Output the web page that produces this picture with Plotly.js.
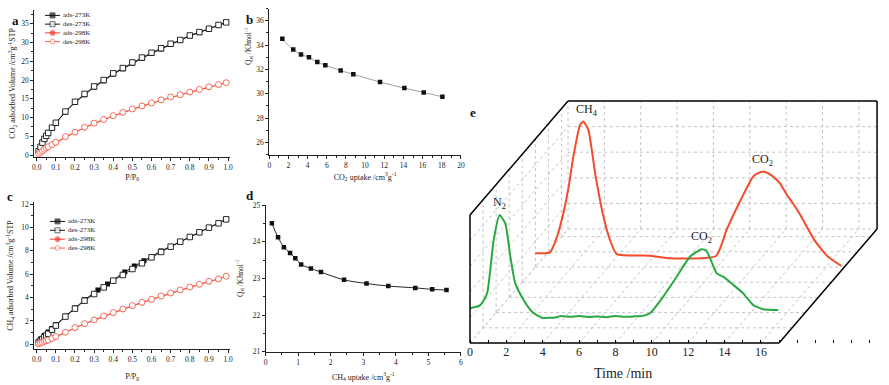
<!DOCTYPE html>
<html><head><meta charset="utf-8">
<script src="https://cdn.plot.ly/plotly-3.0.1.min.js"></script>
<style>html,body{margin:0;padding:0;background:#fff}#chart{width:889px;height:385px}</style>
</head><body><div id="chart"></div>
<script>
// ---------------- DATA ----------------
// panel a: CO2 isotherms
const pressureA = [0.01,0.02,0.03,0.04,0.05,0.06,0.08,0.10,0.15,0.20,0.25,0.30,0.35,0.40,0.45,0.50,0.55,0.60,0.65,0.70,0.75,0.80,0.85,0.90,0.95,0.99];
const co2Ads273 = [0.9,2.1,3.2,4.2,5.0,5.8,7.2,8.5,11.5,14.0,16.1,18.1,19.8,21.6,23.0,24.5,25.8,27.1,28.3,29.5,30.6,31.8,32.7,33.6,34.6,35.4];
const co2Des273 = [1.0,2.2,3.3,4.3,5.1,5.9,7.3,8.6,11.6,14.2,16.3,18.3,20.0,21.8,23.2,24.7,26.0,27.3,28.5,29.7,30.7,31.9,32.8,33.7,34.7,35.4];
const co2Ads298 = [0.25,0.65,1.05,1.45,1.85,2.15,2.75,3.3,4.8,6.0,7.3,8.4,9.4,10.4,11.3,12.2,13.0,13.8,14.6,15.4,16.0,16.7,17.4,18.1,18.7,19.3];
const co2Des298 = [0.3,0.7,1.1,1.5,1.9,2.2,2.8,3.4,4.9,6.1,7.4,8.5,9.5,10.5,11.4,12.3,13.1,13.9,14.7,15.5,16.1,16.8,17.5,18.2,18.8,19.3];
// panel c: CH4 isotherms
const pressureC = [0.01,0.02,0.03,0.04,0.05,0.06,0.08,0.10,0.15,0.20,0.25,0.30,0.35,0.40,0.45,0.50,0.55,0.60,0.65,0.70,0.75,0.80,0.85,0.90,0.95,0.99];
const pressureCAds273 = [0.01,0.02,0.04,0.06,0.08,0.10,0.15,0.20,0.25,0.32,0.37,0.46,0.51,0.56,0.65,0.75,0.85,0.95,0.99];
const ch4Ads273 = [0.2,0.45,0.75,1.05,1.35,1.7,2.4,3.1,3.8,4.65,5.16,6.19,6.7,7.15,7.98,8.78,9.58,10.35,10.69];
const ch4Des273 = [0.15,0.3,0.45,0.6,0.75,0.9,1.25,1.6,2.37,3.05,3.73,4.3,4.87,5.44,5.93,6.44,6.93,7.44,7.9,8.35,8.78,9.18,9.58,9.98,10.35,10.69];
const ch4Ads298 = [0.04,0.09,0.15,0.22,0.28,0.34,0.47,0.63,1.0,1.4,1.74,2.05,2.39,2.68,2.99,3.28,3.56,3.82,4.1,4.36,4.62,4.88,5.11,5.37,5.57,5.82];
const ch4Des298 = [0.05,0.1,0.17,0.25,0.3,0.37,0.5,0.66,1.03,1.43,1.77,2.08,2.42,2.71,3.02,3.31,3.59,3.85,4.13,4.39,4.65,4.9,5.13,5.39,5.59,5.82];
// panel b: CO2 isosteric heat
const co2Uptake = [1.36,2.5,3.31,4.14,5.01,5.85,7.45,8.77,11.56,14.1,16.12,18.07];
const co2Qst = [34.51,33.63,33.22,33.0,32.61,32.34,31.9,31.6,30.96,30.46,30.1,29.75];
// panel d: CH4 isosteric heat
const ch4Uptake = [0.19,0.38,0.56,0.75,0.91,1.09,1.39,1.7,2.41,3.1,3.77,4.6,5.12,5.56];
const ch4Qst = [24.5,24.12,23.85,23.69,23.55,23.38,23.27,23.17,22.96,22.86,22.79,22.74,22.7,22.68];
// panel e: chromatogram signals
const greenTime = [0,0.57,0.94,1.3,1.63,1.94,2.22,2.49,2.95,3.41,3.96,4.69,4.97,5.5,6.0,6.5,7.0,7.5,8.0,8.5,9.0,9.5,9.9,10.63,11.37,12.1,12.74,13.0,13.57,13.93,14.48,15.03,15.58,16.13,16.96];
const greenSignal = [1.36,1.48,1.94,4.02,5.0,4.67,3.37,2.33,1.68,1.22,0.99,1.0,1.05,1.03,1.05,1.02,1.04,1.01,1.05,1.03,1.04,1.06,1.16,1.81,2.59,3.37,3.66,3.61,2.72,2.59,2.27,1.94,1.48,1.32,1.29];
const redTime = [0,0.81,1.2,1.54,1.85,2.09,2.46,2.64,2.92,3.29,3.75,4.11,4.48,6.31,7.32,9.94,10.52,11.26,11.98,12.2,12.5,12.8,13.08,13.46,13.81,14.2,14.56,15.35,16.1,16.84];
const redSignal = [0.54,0.57,1.2,2.1,3.2,4.31,5.55,5.68,5.35,3.66,1.96,1.05,0.5,0.44,0.34,0.43,1.45,2.57,3.53,3.65,3.72,3.67,3.53,3.27,2.85,2.45,2.05,1.05,0.4,0.04];
const greenLabel = 'N<sub>2</sub>', greenLabel2 = 'CO<sub>2</sub>';
const redLabel = 'CH<sub>4</sub>', redLabel2 = 'CO<sub>2</sub>';
const timeLabels = [0,2,4,6,8,10,12,14,16];
const legendLabels = ['ads-273K','des-273K','ads-298K','des-298K'];

// ---------------- STYLE / LAYOUT HELPERS ----------------
const W = 889, H = 385;
const px = v => v / W, py = v => 1 - v / H;
const SERIF = 'Liberation Serif, Times New Roman, serif';
const BLACK = '#111', RED = '#f3412b', RED_LIGHT = '#f5604c', GREEN = '#2aa844', ORANGE = '#f34b2b';

function ax(extra) {
  return Object.assign({
    showgrid: false, zeroline: false, showline: true, linecolor: '#222', linewidth: 1,
    ticks: 'outside', ticklen: 3, tickwidth: 1, tickcolor: '#222',
    tickfont: {family: SERIF, size: 7.5, color: '#222'}, fixedrange: true
  }, extra);
}
function ttl(text, standoff, size) {
  return {text: text, standoff: standoff, font: {family: SERIF, size: size || 8, color: '#222'}};
}

const traces = [];
function isoTraces(xs, xsAds273, ads273, des273, ads298, des298, xref, yref) {
  traces.push({x: xsAds273, y: ads273, xaxis: xref, yaxis: yref, mode: 'lines+markers', line: {color: BLACK, width: 1}, marker: {symbol: 'square', size: 5, color: BLACK}});
  traces.push({x: xs, y: des273, xaxis: xref, yaxis: yref, mode: 'lines+markers', line: {color: BLACK, width: 0.8}, marker: {symbol: 'square', size: 5.5, color: '#fff', line: {color: BLACK, width: 0.9}}});
  traces.push({x: xs, y: ads298, xaxis: xref, yaxis: yref, mode: 'lines+markers', line: {color: RED, width: 1}, marker: {symbol: 'circle', size: 5.5, color: RED}});
  traces.push({x: xs, y: des298, xaxis: xref, yaxis: yref, mode: 'lines+markers', line: {color: RED_LIGHT, width: 0.8}, marker: {symbol: 'circle', size: 6, color: '#fff', line: {color: RED_LIGHT, width: 0.9}}});
}
isoTraces(pressureA, pressureA, co2Ads273, co2Des273, co2Ads298, co2Des298, 'x', 'y');
isoTraces(pressureC, pressureCAds273, ch4Ads273, ch4Des273, ch4Ads298, ch4Des298, 'x3', 'y3');

traces.push({x: co2Uptake, y: co2Qst, xaxis: 'x2', yaxis: 'y2', mode: 'lines+markers', line: {color: '#888', width: 0.8, shape: 'spline'}, marker: {symbol: 'square', size: 4.5, color: BLACK}});
traces.push({x: ch4Uptake, y: ch4Qst, xaxis: 'x4', yaxis: 'y4', mode: 'lines+markers', line: {color: BLACK, width: 0.9, shape: 'spline'}, marker: {symbol: 'square', size: 4.5, color: BLACK}});

// legend samples (own small axes)
const legendStyles = [
  {lc: BLACK, sym: 'square', fill: BLACK, mlc: BLACK},
  {lc: BLACK, sym: 'square', fill: '#fff', mlc: BLACK},
  {lc: RED, sym: 'circle', fill: RED, mlc: RED},
  {lc: RED_LIGHT, sym: 'circle', fill: '#fff', mlc: RED_LIGHT}
];
const annotations = [];
[['x6', 'y6'], ['x7', 'y7']].forEach(([xr, yr]) => {
  legendLabels.forEach((lab, i) => {
    const row = 3.5 - i, s = legendStyles[i];
    traces.push({x: [1, 8.5, 16], y: [row, row, row], xaxis: xr, yaxis: yr, mode: 'lines+markers', line: {color: s.lc, width: 1},
      marker: {symbol: s.sym, size: [0, 5, 0], color: s.fill, line: {color: s.mlc, width: 0.9}}});
    annotations.push({x: 17, y: row, xref: xr, yref: yr, text: lab, showarrow: false, xanchor: 'left', yanchor: 'middle',
      font: {family: SERIF, size: 7, color: '#222'}});
  });
});

// panel e projection
const PXMIN = 18.18, PXUNIT = 25.6;
const T_END = 17, Z_TOP = 5, D_BACK = 7.5;
const DXD = (98 / D_BACK) / PXMIN, DYD = (114 / D_BACK) / PXUNIT;
const proj = (t, v, d) => [t + d * DXD, v + d * DYD];
const GREEN_DEPTH = 0, RED_DEPTH = 5;

function projSeries(ts, vs, d) {
  const xs = [], ys = [];
  ts.forEach((t, i) => { const p = proj(t, vs[i], d); xs.push(p[0]); ys.push(p[1]); });
  return [xs, ys];
}
const [gx, gy] = projSeries(greenTime, greenSignal, GREEN_DEPTH);
const [rx, ry] = projSeries(redTime, redSignal, RED_DEPTH);
traces.push({x: rx, y: ry, xaxis: 'x5', yaxis: 'y5', mode: 'lines', line: {color: ORANGE, width: 2, shape: 'spline', smoothing: 0.5}});
traces.push({x: gx, y: gy, xaxis: 'x5', yaxis: 'y5', mode: 'lines', line: {color: GREEN, width: 2, shape: 'spline', smoothing: 0.5}});

// box & grid shapes for panel e
const shapes = [];
function seg(p, q, solid) {
  shapes.push({type: 'line', xref: 'x5', yref: 'y5', x0: p[0], y0: p[1], x1: q[0], y1: q[1], layer: solid ? 'above' : 'below',
    line: solid ? {color: '#000', width: 1.5} : {color: '#c4c4c4', width: 1, dash: 'dot'}});
}
for (let t = 0; t < T_END; t += 2) {
  seg(proj(t, 0, D_BACK), proj(t, Z_TOP, D_BACK), false); // back wall verticals
  seg(proj(t, 0, 0), proj(t, 0, D_BACK), false);          // floor diagonals
}
for (let v = 0; v < Z_TOP; v += 1) {
  seg(proj(0, v, D_BACK), proj(T_END, v, D_BACK), false); // back wall horizontals
  seg(proj(0, v, 0), proj(0, v, D_BACK), false);          // left wall diagonals
}
for (let d = 1; d < D_BACK; d += 1) {
  seg(proj(0, 0, d), proj(0, Z_TOP, d), false);           // left wall verticals
  seg(proj(0, 0, d), proj(T_END, 0, d), false);           // floor lines
}
// solid outline
seg(proj(0, 0, 0), proj(0, Z_TOP, 0), true);
seg(proj(0, Z_TOP, 0), proj(0, Z_TOP, D_BACK), true);
seg(proj(0, Z_TOP, D_BACK), proj(T_END, Z_TOP, D_BACK), true);
seg(proj(T_END, Z_TOP, D_BACK), proj(T_END, 0, D_BACK), true);
seg(proj(T_END, 0, D_BACK), proj(T_END, 0, 0), true);
seg(proj(0, 0, 0), proj(T_END, 0, 0), true);

// peak labels
function peakLabel(ts, vs, d, lo, hi, text, xs) {
  let bi = -1;
  ts.forEach((t, i) => { if (t >= lo && t <= hi && (bi < 0 || vs[i] > vs[bi])) bi = i; });
  const p = proj(ts[bi], vs[bi], d);
  annotations.push({x: p[0], y: p[1], xref: 'x5', yref: 'y5', text: text, showarrow: false, yanchor: 'bottom', yshift: 2, xshift: xs || 0,
    font: {family: SERIF, size: 12, color: '#222'}});
}
peakLabel(greenTime, greenSignal, GREEN_DEPTH, 0, 5, greenLabel, 0);
peakLabel(greenTime, greenSignal, GREEN_DEPTH, 8, 17, greenLabel2, 0);
peakLabel(redTime, redSignal, RED_DEPTH, 0, 5, redLabel, 4);
peakLabel(redTime, redSignal, RED_DEPTH, 8, 17, redLabel2, 0);

// panel letters and e title
[['a', 15, 20], ['b', 249, 19], ['c', 10, 197], ['d', 250, 196], ['e', 473, 112]].forEach(([t, x, y]) => {
  annotations.push({x: px(x), y: py(y), xref: 'paper', yref: 'paper', text: '<b>' + t + '</b>', showarrow: false,
    xanchor: 'center', yanchor: 'middle', font: {family: SERIF, size: 13, color: '#111'}});
});
annotations.push({x: px(623), y: py(373), xref: 'paper', yref: 'paper', text: 'Time /min', showarrow: false,
  xanchor: 'center', yanchor: 'middle', font: {family: SERIF, size: 14, color: '#222'}});
// panel b y title sits in the upper part of the axis in the reference
annotations.push({x: px(248), y: py(46), xref: 'paper', yref: 'paper', text: 'Q<sub>st</sub> /KJmol<sup>-1</sup>', showarrow: false,
  textangle: -90, xanchor: 'center', yanchor: 'middle', font: {family: SERIF, size: 7.5, color: '#222'}});

const layout = {
  width: W, height: H, margin: {l: 0, r: 0, t: 0, b: 0}, paper_bgcolor: '#fff', plot_bgcolor: 'rgba(0,0,0,0)',
  showlegend: false, shapes: shapes, annotations: annotations,
  // a
  xaxis: ax({domain: [px(34.3), px(230)], anchor: 'y', range: [-0.0125, 1.01], tick0: 0, dtick: 0.1, tickformat: '.1f',
    minor: {ticks: 'outside', ticklen: 2, dtick: 0.05, tickcolor: '#222'}, title: ttl('P/P<sub>0</sub>', 3)}),
  yaxis: ax({domain: [py(156.7), py(10)], anchor: 'x', range: [-0.45, 38.7], tick0: 0, dtick: 5,
    minor: {ticks: 'outside', ticklen: 2, dtick: 2.5, tickcolor: '#222'},
    title: ttl('CO<sub>2</sub> adsorbed Volume /cm<sup>3</sup>g<sup>-1</sup>STP', 4)}),
  // b
  xaxis2: ax({domain: [px(269.3), px(460.9)], anchor: 'y2', range: [0, 20], tick0: 0, dtick: 2,
    minor: {ticks: 'outside', ticklen: 2, dtick: 1, tickcolor: '#222'}, title: ttl('CO<sub>2</sub> uptake /cm<sup>3</sup>g<sup>-1</sup>', 5)}),
  yaxis2: ax({domain: [py(154.5), py(8.6)], anchor: 'x2', range: [25, 37], tick0: 26, dtick: 2,
    minor: {ticks: 'outside', ticklen: 2, dtick: 1, tickcolor: '#222'}}),
  // c
  xaxis3: ax({domain: [px(34.3), px(230)], anchor: 'y3', range: [-0.0125, 1.01], tick0: 0, dtick: 0.1, tickformat: '.1f',
    minor: {ticks: 'outside', ticklen: 2, dtick: 0.05, tickcolor: '#222'}, title: ttl('P/P<sub>0</sub>', 10)}),
  yaxis3: ax({domain: [py(349.3), py(201.7)], anchor: 'x3', range: [-0.43, 12.2], tick0: 0, dtick: 2,
    minor: {ticks: 'outside', ticklen: 2, dtick: 1, tickcolor: '#222'},
    title: ttl('CH<sub>4</sub> adsorbed Volume /cm<sup>3</sup>g<sup>-1</sup>STP', 6)}),
  // d
  xaxis4: ax({domain: [px(265.7), px(460.8)], anchor: 'y4', range: [0, 6], tick0: 0, dtick: 1,
    minor: {ticks: 'outside', ticklen: 2, dtick: 0.5, tickcolor: '#222'}, title: ttl('CH<sub>4</sub> uptake /cm<sup>3</sup>g<sup>-1</sup>', 8)}),
  yaxis4: ax({domain: [py(351.7), py(205)], anchor: 'x4', range: [21, 25], tick0: 21, dtick: 1,
    minor: {ticks: 'outside', ticklen: 2, dtick: 0.5, tickcolor: '#222'}, title: ttl('Q<sub>st</sub> /KJmol<sup>-1</sup>', 8, 7.5)}),
  // e
  xaxis5: {domain: [px(465), px(885)], anchor: 'free', position: py(343), range: [(465 - 470) / PXMIN, (885 - 470) / PXMIN],
    showgrid: false, zeroline: false, showline: false, ticks: 'inside', ticklen: 3, tickwidth: 1, tickcolor: '#000',
    tickvals: timeLabels, minor: {ticks: 'inside', ticklen: 3, tickwidth: 1, tickcolor: '#000', dtick: 1, tick0: 0},
    tickfont: {family: SERIF, size: 12, color: '#222'}, fixedrange: true},
  yaxis5: {domain: [py(347), py(92)], anchor: 'x5', range: [(343 - 347) / PXUNIT, (343 - 92) / PXUNIT], visible: false, fixedrange: true},
  // legends
  xaxis6: {domain: [px(44), px(100)], anchor: 'y6', range: [0, 56], visible: false, fixedrange: true},
  yaxis6: {domain: [py(46), py(11)], anchor: 'x6', range: [0, 4], visible: false, fixedrange: true},
  xaxis7: {domain: [px(49), px(105)], anchor: 'y7', range: [0, 56], visible: false, fixedrange: true},
  yaxis7: {domain: [py(252.5), py(217)], anchor: 'x7', range: [0, 4], visible: false, fixedrange: true}
};

Plotly.newPlot('chart', traces, layout, {staticPlot: true, displayModeBar: false});
</script>
</body></html>
